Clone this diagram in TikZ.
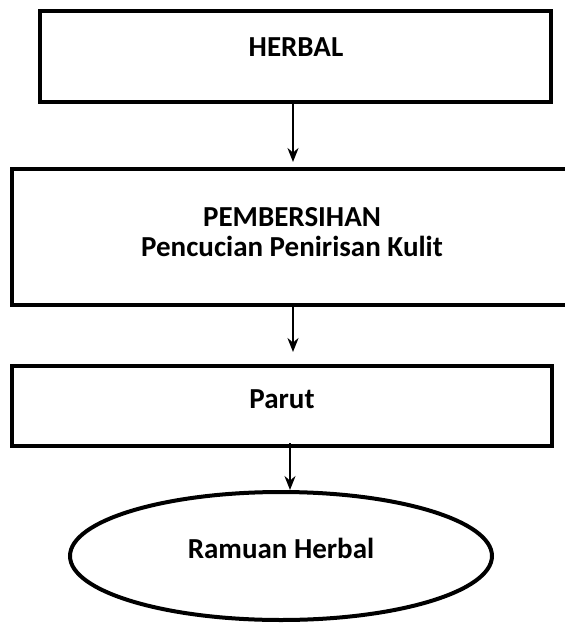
\documentclass[tikz,border=0pt]{standalone}
\usepackage{fontspec}
\setmainfont{Carlito}
\usetikzlibrary{arrows.meta,shapes.geometric}
\begin{document}
\begin{tikzpicture}[x=1pt,y=-1pt,
  box/.style={draw, line width=4pt, rectangle, inner sep=0pt},
  lbl/.style={font=\bfseries\fontsize{29}{30}\selectfont, align=center, inner sep=0pt},
  arr/.style={-{Stealth[length=14pt,width=11pt]}, line width=1.8pt}]
\useasboundingbox (0,0) rectangle (565,625);
\clip (0,0) rectangle (565,625);
\node[box, minimum width=511pt, minimum height=91pt] (b1) at (295.5,56.5) {};
\node[lbl] (t1) at (296,47) {HERBAL};
\node[box, minimum width=560pt, minimum height=136pt] (b2) at (292,237) {};
\node[lbl] (t2) at (292,232) {PEMBERSIHAN\\Pencucian Penirisan Kulit};
\node[box, minimum width=540pt, minimum height=80pt] (b3) at (282,406) {};
\node[lbl] (t3) at (282,399) {Parut};
\node[draw, line width=4pt, ellipse, minimum width=422pt, minimum height=128pt, inner sep=0pt] (e) at (281,556) {};
\node[lbl] (t4) at (281,548) {Ramuan Herbal};
\coordinate (a1) at (293,162);
\coordinate (a2) at (293,352);
\coordinate (a3) at (290,490);
\draw[arr] (b1.south -| a1) -- (a1);
\draw[arr] (b2.south -| a2) -- (a2);
\draw[arr] ([yshift=5pt]b3.south -| a3) -- (a3);
\end{tikzpicture}
\end{document}
